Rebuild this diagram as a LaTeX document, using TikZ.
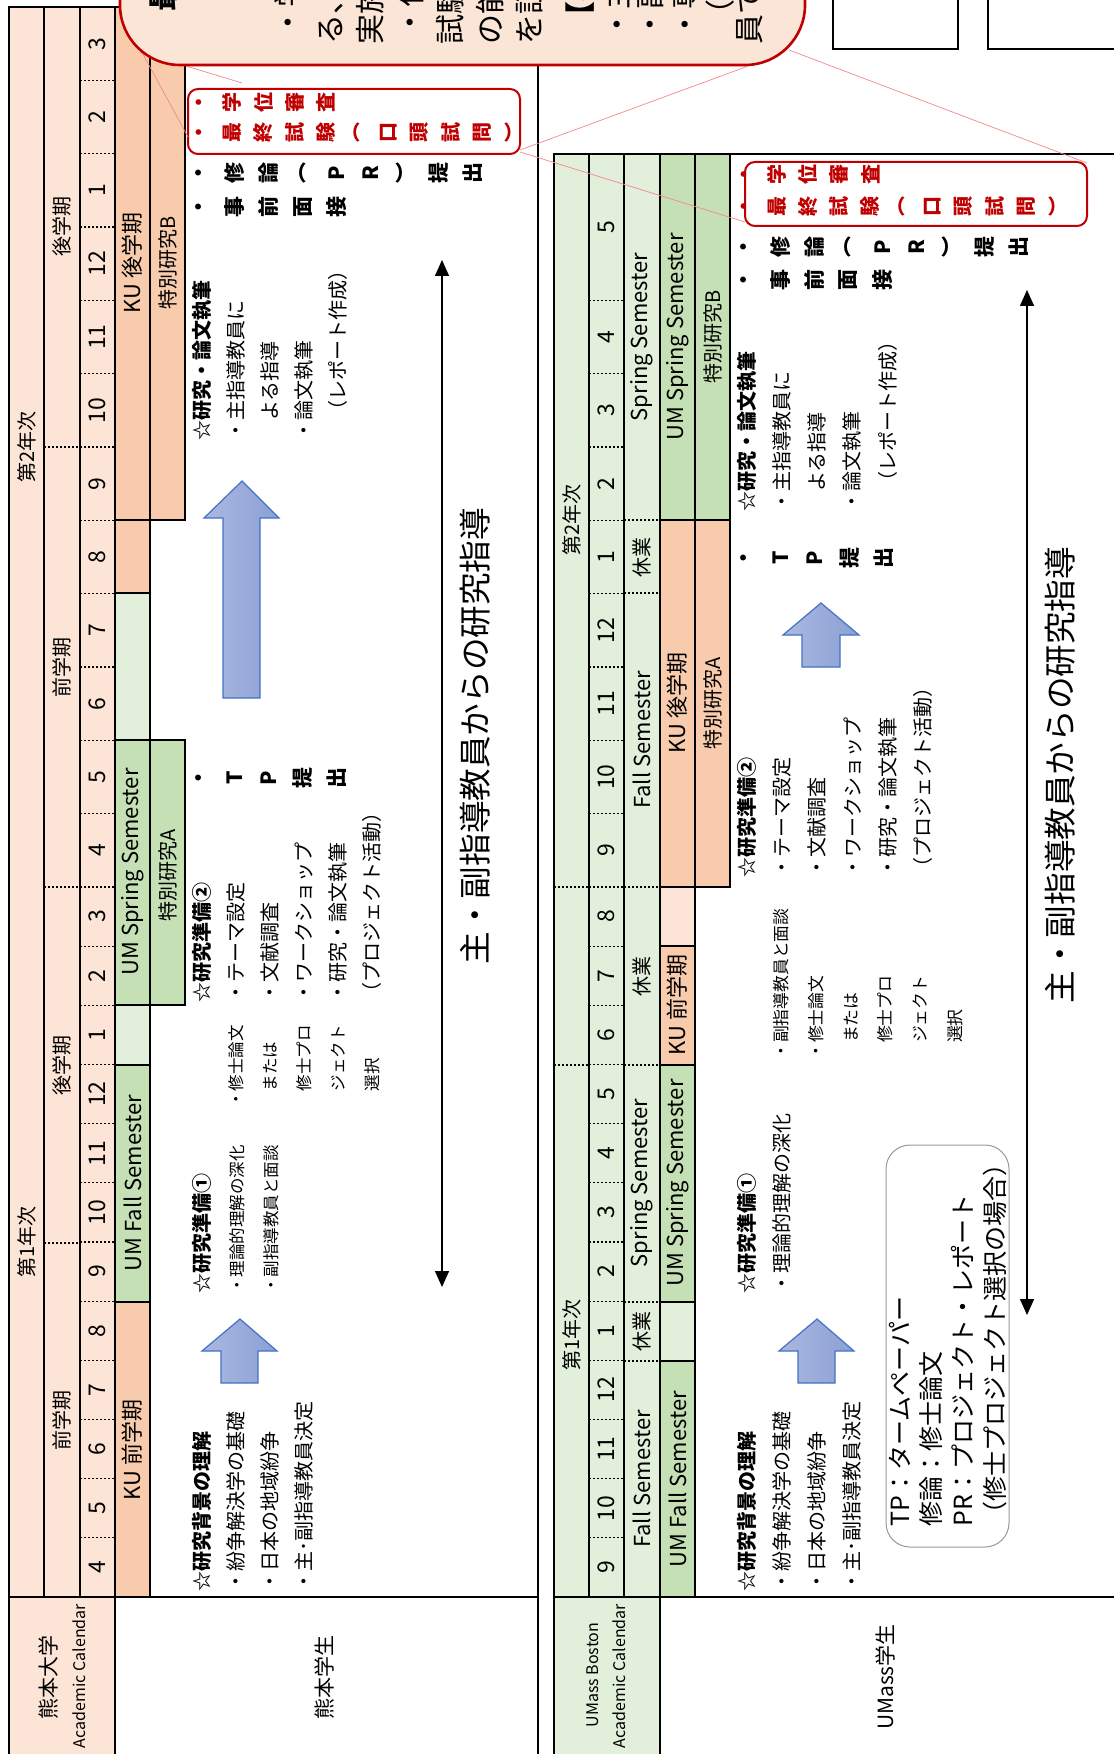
\documentclass[tikz,border=0pt]{standalone}
\usepackage{fontspec}
\setmainfont{Noto Sans CJK JP}
\usetikzlibrary{arrows.meta}

\definecolor{peachL}{HTML}{FCE4D6}
\definecolor{peachD}{HTML}{F8CBAD}
\definecolor{greenL}{HTML}{E2EFDA}
\definecolor{greenD}{HTML}{C5E0B4}
\definecolor{kuRed}{HTML}{C00000}
\definecolor{noteFill}{HTML}{FBE5D6}
\definecolor{arrL}{HTML}{ABB8E0}
\definecolor{arrD}{HTML}{8BA0D5}
\definecolor{arrEdge}{HTML}{4472C4}
\definecolor{linkRed}{HTML}{F08A8A}

\tikzset{
  thickline/.style={line width=1pt},
  mdot/.style={line width=0.6pt, dash pattern=on 1.2pt off 0.8pt},
  vtext/.style={rotate=90, inner sep=0pt},
  monthnum/.style={vtext, font=\fontsize{11.5}{11.5}\selectfont},
  semlabel/.style={vtext, font=\fontsize{10}{10}\selectfont},
  barlabel/.style={vtext, font=\fontsize{11}{11}\selectfont},
  itemlist/.style={vtext, anchor=north west, align=left, font=\fontsize{10}{17}\selectfont},
  tatechar/.style={vtext, font=\bfseries\fontsize{10.5}{10.5}\selectfont},
  redchar/.style={tatechar, text=kuRed, font=\bfseries\fontsize{10}{10}\selectfont},
  redbox/.style={draw=kuRed, line width=1pt, rounded corners=5pt},
  blockarrow/.style={draw=arrEdge, line width=0.6pt, left color=arrL, right color=arrD},
  bigtext/.style={vtext, font=\fontsize{16.3}{16.3}\selectfont},
  notelink/.style={draw=linkRed, line width=0.35pt},
  notetext/.style={vtext, anchor=west, font=\fontsize{15}{15}\selectfont},
  guidearrow/.style={line width=0.7pt, {Triangle[width=7pt,length=8pt]}-{Triangle[width=7pt,length=8pt]}},
}

\begin{document}
\begin{tikzpicture}[x=0.5pt,y=-0.5pt]
\useasboundingbox (0,0) rectangle (1113,1754);
\fill[white] (0,0) rectangle (1113,1754);

% ===== Kumamoto calendar
\fill[peachL] (9,7) rectangle (115,1754);
\fill[peachD] (115,1302) rectangle (150,1597);
\fill[greenD] (115,1065) rectangle (150,1302);
\fill[greenL] (115,1005) rectangle (150,1065);
\fill[greenD] (115,740) rectangle (150,1005);
\fill[greenL] (115,593) rectangle (150,740);
\fill[peachD] (115,7) rectangle (150,593);
\foreach \k in {1,...,12}
  \draw[mdot] (80,{1597-59.17*\k}) -- (115,{1597-59.17*\k});
\foreach \k in {1,...,11}
  \draw[mdot] (80,{887-73.33*\k}) -- (115,{887-73.33*\k});
\foreach \yy in {1243,887,447}
  \draw[mdot] (44,\yy) -- (80,\yy);
\draw[thickline, fill=greenD] (150,740) rectangle (185,1005);
\draw[thickline, fill=peachD] (150,7) rectangle (185,520);
\draw[thickline] (9,7) rectangle (538,1770);
\draw[thickline] (9,1597) -- (538,1597);
\draw[thickline] (44,7) -- (44,1597) (80,7) -- (80,1597) (115,7) -- (115,1770) (150,7) -- (150,1597);
\foreach \yy in {1302,1065,1005,740,593,520}
  \draw[thickline] (115,\yy) -- (150,\yy);

\foreach \m [count=\k from 0] in {4,5,6,7,8,9,10,11,12,1,2,3}
  \node[monthnum] (kuMa\k) at (97.5,{1597-59.17*(\k+0.5)}) {\m};
\foreach \m [count=\k from 0] in {4,5,6,7,8,9,10,11,12,1,2,3}
  \node[monthnum] (kuMb\k) at (97.5,{887-73.33*(\k+0.5)}) {\m};
\node[semlabel] (kuY1) at (26.5,1242) {第1年次};
\node[semlabel] (kuY2) at (26.5,447) {第2年次};
\node[semlabel] (kuS1) at (62,1420) {前学期};
\node[semlabel] (kuS2) at (62,1065) {後学期};
\node[semlabel] (kuS3) at (62,667) {前学期};
\node[semlabel] (kuS4) at (62,227) {後学期};
\node[barlabel] (kuD1) at (132.5,1450) {KU 前学期};
\node[barlabel] (kuD2) at (132.5,1183) {UM Fall Semester};
\node[barlabel] (kuD3) at (132.5,872) {UM Spring Semester};
\node[barlabel] (kuD4) at (132.5,263) {KU 後学期};
\node[semlabel] (kuE1) at (167.5,875) {特別研究A};
\node[semlabel] (kuE2) at (167.5,263) {特別研究B};
\node[vtext, font=\fontsize{10.5}{10.5}\selectfont] (kuCal) at (48,1677) {熊本大学};
\node[vtext, font=\fontsize{8}{8}\selectfont] (kuCalEn) at (79,1676) {Academic Calendar};
\node[vtext, font=\fontsize{10.5}{10.5}\selectfont] (kuStu) at (324,1677) {熊本学生};

% contents
\node[itemlist] (kuBg) at (191.8,1592) {{\bfseries ☆研究背景の理解}\\・紛争解決学の基礎\\・日本の地域紛争\\・主･副指導教員決定};
\node[itemlist] (kuPrep1) at (191.8,1294) {{\bfseries ☆研究準備①}\\{\fontsize{8.25}{17}\selectfont ・理論的理解の深化}\\{\fontsize{8.25}{17}\selectfont ・副指導教員と面談}};
\node[itemlist, font=\fontsize{8.25}{17}\selectfont] (kuThesis) at (228.4,1108) {・修士論文\\　または\\　修士プロ\\　ジェクト\\　選択};
\node[itemlist] (kuPrep2) at (191.8,1003) {{\bfseries ☆研究準備②}\\・テーマ設定\\・文献調査\\・ワークショップ\\・研究・論文執筆\\（プロジェクト活動）};
\node[itemlist] (kuWrite) at (191.8,441) {{\bfseries ☆研究・論文執筆}\\・主指導教員に\\　よる指導\\・論文執筆\\　（レポート作成）};
\foreach \ch [count=\i from 0] in {・,T,P,提,出}
  \node[tatechar] (kuTp\i) at ({201+33.9*\i},778) {\ch};
\foreach \ch [count=\i from 0] in {・,修,論,︵,P,R,︶,提,出}
  \node[tatechar] (kuPr\i) at ({201+33.9*\i},173) {\ch};
\foreach \ch [count=\i from 0] in {・,事,前,面,接}
  \node[tatechar] (kuIv\i) at ({201+33.9*\i},207) {\ch};
\draw[redbox] (188,89) rectangle (520,154);
\foreach \ch [count=\i from 0] in {・,学,位,審,査}
  \node[redchar] (kuDg\i) at ({201+31.2*\i},103) {\ch};
\foreach \ch [count=\i from 0] in {・,最,終,試,験,︵,口,頭,試,問,︶}
  \node[redchar] (kuEx\i) at ({201+31.2*\i},133) {\ch};

\draw[blockarrow] (240,1319) -- (277,1351) -- (258,1351) -- (258,1383) -- (221,1383) -- (221,1351) -- (202,1351) -- cycle;
\draw[blockarrow] (242,481) -- (279,518) -- (260,518) -- (260,698) -- (223,698) -- (223,518) -- (204,518) -- cycle;
\coordinate (kuGuideTop) at (442,260);
\coordinate (kuGuideBot) at (442,1287);
\draw[guidearrow] (kuGuideTop) -- (kuGuideBot);
\node[bigtext] (kuGuide) at (475,736) {主・副指導教員からの研究指導};

% ===== UMass Boston calendar
\fill[greenL] (554,154) rectangle (660,1754);
\fill[greenD] (660,1361) rectangle (695,1597);
\fill[greenL] (660,1302) rectangle (695,1361);
\fill[greenD] (660,1065) rectangle (695,1302);
\fill[peachD] (660,946) rectangle (695,1065);
\fill[peachL] (660,887) rectangle (695,946);
\fill[peachD] (660,520) rectangle (695,887);
\fill[greenD] (660,154) rectangle (695,520);
\foreach \k in {1,...,12}
  \draw[mdot] (589,{1597-59.17*\k}) -- (624,{1597-59.17*\k});
\foreach \k in {1,...,8}
  \draw[mdot] (589,{887-73.33*\k}) -- (624,{887-73.33*\k});
\foreach \yy in {1361,1302,1065,887,593,520}
  \draw[mdot] (624,\yy) -- (660,\yy);
\foreach \yy in {1065,887}
  \draw[mdot] (554,\yy) -- (589,\yy);
\draw[thickline, fill=peachD] (695,520) rectangle (730,887);
\draw[thickline, fill=greenD] (695,154) rectangle (730,520);
\draw[thickline] (1125,154) -- (554,154) -- (554,1770) (554,1597) -- (1125,1597);
\draw[thickline] (589,154) -- (589,1597) (624,154) -- (624,1597) (660,154) -- (660,1770) (695,154) -- (695,1597);
\foreach \yy in {1361,1302,1065,946,887,520}
  \draw[thickline] (660,\yy) -- (695,\yy);

\foreach \m [count=\k from 0] in {9,10,11,12,1,2,3,4,5,6,7,8}
  \node[monthnum] (umMa\k) at (606.5,{1597-59.17*(\k+0.5)}) {\m};
\foreach \m [count=\k from 0] in {9,10,11,12,1,2,3,4}
  \node[monthnum] (umMb\k) at (606.5,{887-73.33*(\k+0.5)}) {\m};
\node[monthnum] (umMb8) at (606.5,227) {5};
\node[semlabel] (umY1) at (571.5,1335) {第1年次};
\node[semlabel] (umY2) at (571.5,520) {第2年次};
\node[barlabel] (umC1) at (642,1479) {Fall Semester};
\node[semlabel] (umC2) at (642,1331) {休業};
\node[barlabel] (umC3) at (642,1183) {Spring Semester};
\node[semlabel] (umC4) at (642,976) {休業};
\node[barlabel] (umC5) at (642,740) {Fall Semester};
\node[semlabel] (umC6) at (642,557) {休業};
\node[barlabel] (umC7) at (642,337) {Spring Semester};
\node[barlabel] (umD1) at (677.5,1479) {UM Fall Semester};
\node[barlabel] (umD2) at (677.5,1183) {UM Spring Semester};
\node[barlabel] (umD3) at (677.5,1005) {KU 前学期};
\node[barlabel] (umD4) at (677.5,703) {KU 後学期};
\node[barlabel] (umD5) at (677.5,337) {UM Spring Semester};
\node[semlabel] (umE1) at (712.5,703) {特別研究A};
\node[semlabel] (umE2) at (712.5,337) {特別研究B};
\node[vtext, font=\fontsize{8}{8}\selectfont] (umCal) at (593,1675) {UMass Boston};
\node[vtext, font=\fontsize{8}{8}\selectfont] (umCalEn) at (619,1676) {Academic Calendar};
\node[vtext, font=\fontsize{10.5}{10.5}\selectfont] (umStu) at (885,1677) {UMass学生};

% contents
\node[itemlist, font=\fontsize{10}{17.6}\selectfont] (umBg) at (736.8,1592) {{\bfseries ☆研究背景の理解}\\・紛争解決学の基礎\\・日本の地域紛争\\・主･副指導教員決定};
\node[itemlist, font=\fontsize{10}{17.6}\selectfont] (umPrep1) at (736.8,1294) {{\bfseries ☆研究準備①}\\・理論的理解の深化};
\node[itemlist, font=\fontsize{8.4}{17.4}\selectfont] (umThesis) at (773,1060) {・副指導教員と面談\\・修士論文\\　または\\　修士プロ\\　ジェクト\\　選択};
\node[itemlist, font=\fontsize{10}{17.6}\selectfont] (umPrep2) at (736.8,878) {{\bfseries ☆研究準備②}\\・テーマ設定\\・文献調査\\・ワークショップ\\・研究・論文執筆\\（プロジェクト活動）};
\node[itemlist, font=\fontsize{10}{17.6}\selectfont] (umWrite) at (736.8,512) {{\bfseries ☆研究・論文執筆}\\・主指導教員に\\　よる指導\\・論文執筆\\　（レポート作成）};
\foreach \ch [count=\i from 0] in {・,T,P,提,出}
  \node[tatechar] (umTp\i) at ({746+34.5*\i},558) {\ch};
\foreach \ch [count=\i from 0] in {・,修,論,︵,P,R,︶,提,出}
  \node[tatechar] (umPr\i) at ({746+34.1*\i},247) {\ch};
\foreach \ch [count=\i from 0] in {・,事,前,面,接}
  \node[tatechar] (umIv\i) at ({746+34.1*\i},280) {\ch};
\draw[redbox] (745,162) rectangle (1087,226);
\foreach \ch [count=\i from 0] in {・,学,位,審,査}
  \node[redchar] (umDg\i) at ({746+31.1*\i},175) {\ch};
\foreach \ch [count=\i from 0] in {・,最,終,試,験,︵,口,頭,試,問,︶}
  \node[redchar] (umEx\i) at ({746+31.1*\i},207) {\ch};

\draw[blockarrow] (817,1319) -- (854,1351) -- (835,1351) -- (835,1383) -- (798,1383) -- (798,1351) -- (779,1351) -- cycle;
\draw[blockarrow] (821,603) -- (859,635) -- (840,635) -- (840,667) -- (802,667) -- (802,635) -- (783,635) -- cycle;
\coordinate (umGuideTop) at (1027,290);
\coordinate (umGuideBot) at (1027,1315);
\draw[guidearrow] (umGuideTop) -- (umGuideBot);
\node[bigtext] (umGuide) at (1060,775) {主・副指導教員からの研究指導};

\draw[rounded corners=12pt, draw=black!40, line width=0.5pt] (886,1145) rectangle (1009,1547);
\node[itemlist, font=\fontsize{12.5}{15.8}\selectfont] (umLegend) at (888.5,1527) {TP：タームペーパー\\修論：修士論文\\PR：プロジェクト・レポート\\（修士プロジェクト選択の場合）};

% ===== callout at the top
\coordinate (lkA1) at (120,12);  \coordinate (lkA2) at (188,137);
\coordinate (lkB1) at (140,52);  \coordinate (lkB2) at (242,83);
\coordinate (lkC1) at (770,58);  \coordinate (lkC2) at (520,150);
\coordinate (lkD1) at (520,152); \coordinate (lkD2) at (745,222);
\coordinate (lkE1) at (789,50);  \coordinate (lkE2) at (1087,163);
\draw[notelink] (lkA1) -- (lkA2);
\draw[notelink] (lkB1) -- (lkB2);
\draw[notelink] (lkC1) -- (lkC2);
\draw[notelink] (lkD1) -- (lkD2);
\draw[notelink] (lkE1) -- (lkE2);
\draw[draw=kuRed, fill=noteFill, line width=1.3pt, rounded corners=30pt] (120,-200) rectangle (805,65);
\foreach \px/\py/\tx [count=\i] in {163/12/{\bfseries 最終試験}, 288/38/・学位, 330/45/る、実, 370/45/実施,
    410/38/・作成, 450/45/試験, 490/45/の能, 530/45/を証, 580/32/{\bfseries 【審査}, 617/40/・主査,
    650/40/・副査, 685/40/・専門, 720/30/（KU, 750/45/員で}
  \node[notetext] (note\i) at (\px,\py) {\tx};

\draw[line width=0.6pt, fill=white] (833,-10) rectangle (958,49);
\draw[line width=0.6pt, fill=white] (988,-10) rectangle (1125,49);
\end{tikzpicture}
\end{document}
